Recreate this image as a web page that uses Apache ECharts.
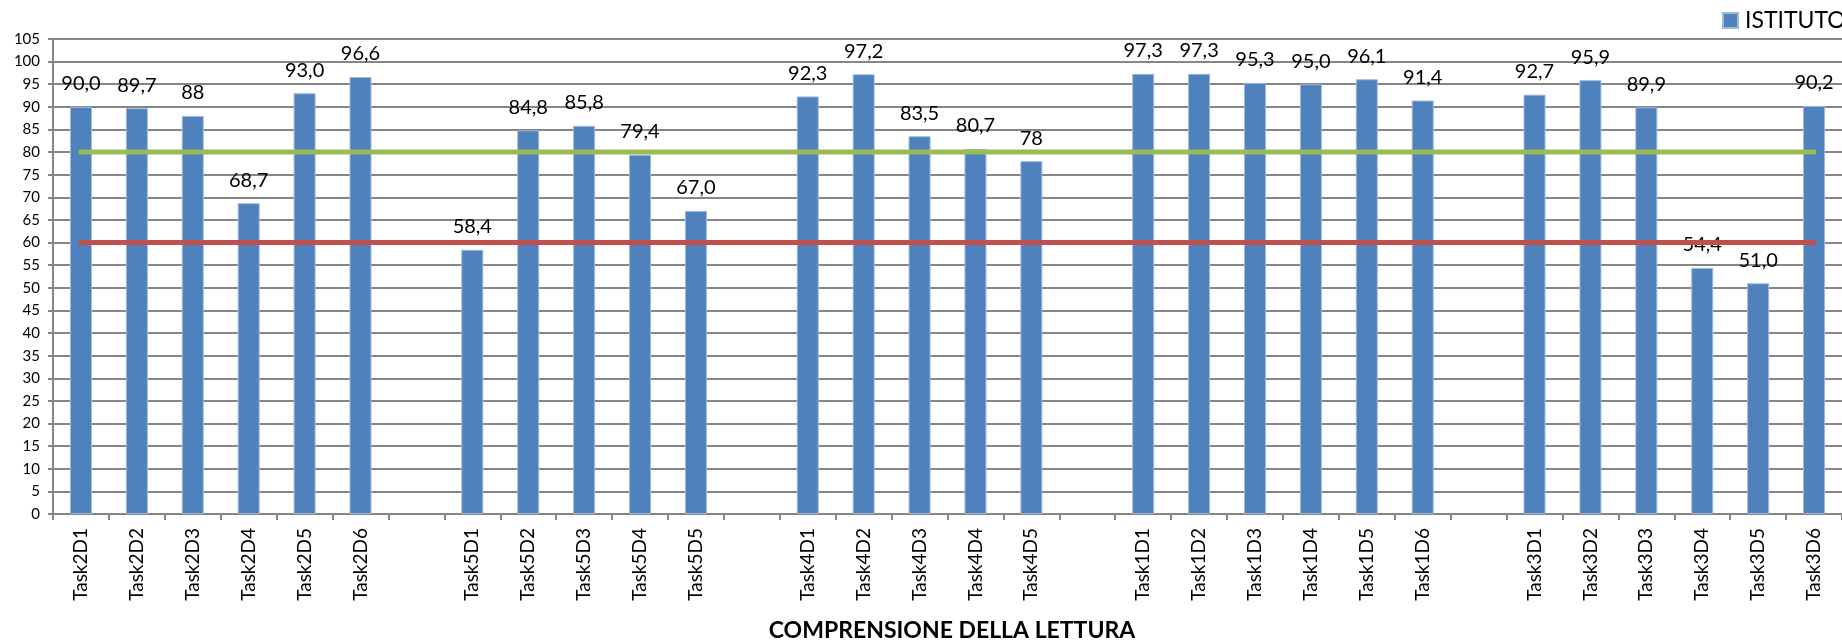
<!DOCTYPE html>
<html>
<head>
<meta charset="utf-8">
<script src="https://cdn.jsdelivr.net/npm/echarts@6/dist/echarts.min.js"></script>
<style>
  html, body { margin: 0; padding: 0; background: #ffffff; }
  #chart { width: 1842px; height: 640px; }
</style>
</head>
<body>
<div id="chart"></div>
<script>
// Task groups (an empty slot separates each group on the axis)
const task2 = ['Task2D1', 'Task2D2', 'Task2D3', 'Task2D4', 'Task2D5', 'Task2D6'];
const task5 = ['Task5D1', 'Task5D2', 'Task5D3', 'Task5D4', 'Task5D5'];
const task4 = ['Task4D1', 'Task4D2', 'Task4D3', 'Task4D4', 'Task4D5'];
const task1 = ['Task1D1', 'Task1D2', 'Task1D3', 'Task1D4', 'Task1D5', 'Task1D6'];
const task3 = ['Task3D1', 'Task3D2', 'Task3D3', 'Task3D4', 'Task3D5', 'Task3D6'];

// ISTITUTO scores per group
const score2 = [90.0, 89.7, 88, 68.7, 93.0, 96.6];
const score5 = [58.4, 84.8, 85.8, 79.4, 67.0];
const score4 = [92.3, 97.2, 83.5, 80.7, 78];
const score1 = [97.3, 97.3, 95.3, 95.0, 96.1, 91.4];
const score3 = [92.7, 95.9, 89.9, 54.4, 51.0, 90.2];

// Label text as printed above each bar
const text2 = ['90,0', '89,7', '88', '68,7', '93,0', '96,6'];
const text5 = ['58,4', '84,8', '85,8', '79,4', '67,0'];
const text4 = ['92,3', '97,2', '83,5', '80,7', '78'];
const text1 = ['97,3', '97,3', '95,3', '95,0', '96,1', '91,4'];
const text3 = ['92,7', '95,9', '89,9', '54,4', '51,0', '90,2'];

// Reference thresholds
const upperThreshold = 80;
const lowerThreshold = 60;

const groups = [
  [task2, score2, text2],
  [task5, score5, text5],
  [task4, score4, text4],
  [task1, score1, text1],
  [task3, score3, text3]
];

const categories = [];
const values = [];
const labels = [];
groups.forEach(function (g, i) {
  if (i > 0) { categories.push(''); values.push(null); labels.push(''); }
  g[0].forEach(function (c, j) {
    categories.push(c);
    values.push(g[1][j]);
    labels.push(g[2][j]);
  });
});

const upperLine = categories.map(function () { return upperThreshold; });
const lowerLine = categories.map(function () { return lowerThreshold; });

const FONT = 'Lato, "Open Sans", sans-serif';
const chart = echarts.init(document.getElementById('chart'), null, { renderer: 'canvas' });

chart.setOption({
  backgroundColor: '#ffffff',
  animation: false,
  textStyle: { fontFamily: FONT },
  title: {
    text: 'COMPRENSIONE DELLA LETTURA',
    left: 947,
    textAlign: 'center',
    top: 614,
    textStyle: { fontFamily: FONT, fontSize: 23, fontWeight: 'bold', color: '#000000' }
  },
  legend: {
    data: ['ISTITUTO'],
    left: 1722,
    top: 9,
    padding: 0,
    itemWidth: 15,
    itemHeight: 15,
    icon: 'rect',
    textStyle: { fontFamily: FONT, fontSize: 23, color: '#000000', padding: [0, 0, 0, 2] }
  },
  grid: { left: 53, right: 0, top: 39, bottom: 126, containLabel: false },
  xAxis: {
    type: 'category',
    data: categories,
    boundaryGap: true,
    axisLine: { lineStyle: { color: '#868686', width: 2 } },
    axisTick: { show: true, length: 6, alignWithLabel: false, lineStyle: { color: '#868686', width: 2 } },
    axisLabel: {
      rotate: 90,
      margin: 14,
      interval: 0,
      fontFamily: FONT,
      fontSize: 19,
      color: '#000000'
    },
    splitLine: { show: false }
  },
  yAxis: {
    type: 'value',
    min: 0,
    max: 105,
    interval: 5,
    axisLine: { show: true, lineStyle: { color: '#868686', width: 2 } },
    axisTick: { show: true, length: 5, lineStyle: { color: '#868686', width: 2 } },
    axisLabel: { margin: 13, fontFamily: FONT, fontSize: 15, color: '#000000' },
    splitLine: { show: true, lineStyle: { color: '#868686', width: 2 } }
  },
  series: [
    {
      name: 'ISTITUTO',
      type: 'bar',
      data: values,
      barWidth: 22,
      itemStyle: { color: '#4F81BD', borderColor: '#9fb9dc', borderWidth: 1 },
      label: {
        show: true,
        position: 'top',
        distance: 13,
        fontFamily: FONT,
        fontSize: 20,
        color: '#000000',
        formatter: function (p) { return labels[p.dataIndex]; }
      },
      z: 2
    },
    {
      name: 'soglia80',
      type: 'line',
      data: upperLine,
      symbol: 'none',
      silent: true,
      lineStyle: { color: '#9BBB59', width: 5, cap: 'round' },
      z: 3
    },
    {
      name: 'soglia60',
      type: 'line',
      data: lowerLine,
      symbol: 'none',
      silent: true,
      lineStyle: { color: '#C0504D', width: 5, cap: 'round' },
      z: 3
    }
  ]
});
</script>
</body>
</html>
